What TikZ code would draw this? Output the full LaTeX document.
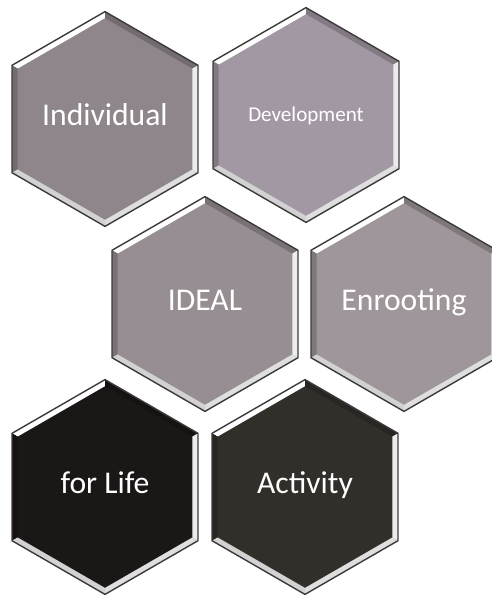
\documentclass[tikz,border=0pt]{standalone}
\usepackage{fontspec}
\setmainfont{Carlito}
\usetikzlibrary{shapes.geometric}

\definecolor{cellrim}{RGB}{62,58,60}
\definecolor{cellA}{RGB}{143,134,140}
\definecolor{cellB}{RGB}{162,152,164}
\definecolor{cellC}{RGB}{150,142,146}
\definecolor{cellD}{RGB}{158,150,154}
\definecolor{cellE}{RGB}{27,23,23}
\definecolor{cellF}{RGB}{50,47,42}

% hexagon with bevelled rim: name, position, fill, label, font size
\newcommand{\honeycell}[5]{%
  \node[hexbox, fill=#3, font=#5] (#1) at (#2) {#4};
  \node[hexinner] (#1-in) at (#2) {};
  \fill[white] (#1.150) -- (#1.90) -- (#1-in.90) -- (#1-in.150) -- cycle;
  \fill[#3!80!black] (#1.90) -- (#1.30) -- (#1-in.30) -- (#1-in.90) -- cycle;
  \fill[#3!80!black] (#1.150) -- (#1.210) -- (#1-in.210) -- (#1-in.150) -- cycle;
  \fill[white!85!gray] (#1.30) -- (#1.330) -- (#1-in.330) -- (#1-in.30) -- cycle;
  \fill[white!65!gray] (#1.210) -- (#1.270) -- (#1-in.270) -- (#1-in.210) -- cycle;
  \fill[white!75!gray] (#1.270) -- (#1.330) -- (#1-in.330) -- (#1-in.270) -- cycle;
  \draw[cellrim, line width=0.8pt] (#1.90) -- (#1.150) -- (#1.210) -- (#1.270)
    -- (#1.330) -- (#1.30) -- cycle;
}

\begin{document}
\begin{tikzpicture}[x=0.02cm, y=-0.02cm,
    hexbox/.style={regular polygon, regular polygon sides=6, regular polygon rotate=30,
      minimum size=4.28cm, inner sep=0pt, text=white, text height=0.85em, text depth=0.15em},
    hexinner/.style={regular polygon, regular polygon sides=6, regular polygon rotate=30,
      minimum size=4.02cm, inner sep=0pt}]
    \useasboundingbox (0,0) rectangle (492,595);

    \honeycell{indiv}{105,119}{cellA}{Individual}{\fontsize{18}{20}\selectfont}
    \honeycell{devel}{306,115}{cellB}{Development}{\fontsize{12}{14}\selectfont}
    \honeycell{ideal}{205,304}{cellC}{IDEAL}{\fontsize{18}{20}\selectfont}
    \honeycell{enroot}{404,304}{cellD}{Enrooting}{\fontsize{18}{20}\selectfont}
    \honeycell{life}{105,487}{cellE}{for Life}{\fontsize{18}{20}\selectfont}
    \honeycell{activ}{305,487}{cellF}{Activity}{\fontsize{18}{20}\selectfont}
\end{tikzpicture}
\end{document}
